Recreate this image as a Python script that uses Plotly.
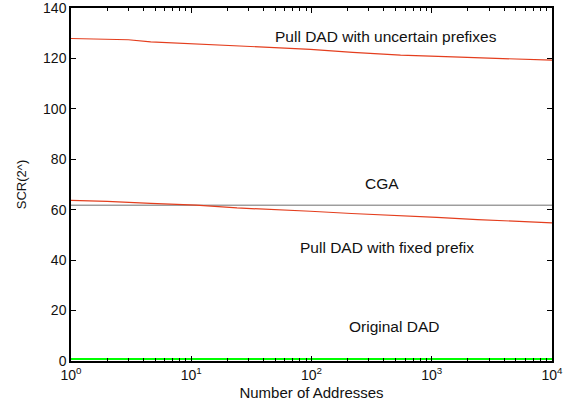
import plotly.graph_objects as go
import math

# Data
n_uncertain = [1, 2, 3, 4.6, 12, 38, 98, 220, 550, 1500, 3800, 10000]
scr_uncertain = [127.9, 127.7, 127.4, 126.6, 125.7, 124.5, 123.6, 122.4, 121.3, 120.6, 120.0, 119.3]

n_fixed = [1, 2, 4.6, 11, 24, 55, 98, 215, 480, 1100, 2400, 5400, 10000]
scr_fixed = [63.7, 63.3, 62.5, 61.8, 60.7, 60.1, 59.4, 58.5, 57.8, 57.0, 56.1, 55.3, 54.8]

n_cga = [1, 10000]
scr_cga = [61.8, 61.8]

n_orig = [1, 10000]
scr_orig = [0.8, 0.8]

x_tickvals = [1, 10, 100, 1000, 10000]
x_ticktext = ["10<sup>0</sup>", "10<sup>1</sup>", "10<sup>2</sup>", "10<sup>3</sup>", "10<sup>4</sup>"]
x_minor = [m * 10 ** d for d in range(4) for m in range(2, 10)]
y_tickvals = [0, 20, 40, 60, 80, 100, 120, 140]

labels = [
    ("Pull DAD with uncertain prefixes", 417, 128.8),
    ("CGA", 389, 70.5),
    ("Pull DAD with fixed prefix", 427, 45.0),
    ("Original DAD", 482, 13.8),
]

red = "rgb(228,62,30)"
fig = go.Figure()
fig.add_trace(go.Scatter(x=n_cga, y=scr_cga, mode="lines",
                         line=dict(color="#6e6e6e", width=1), showlegend=False))
fig.add_trace(go.Scatter(x=n_uncertain, y=scr_uncertain, mode="lines",
                         line=dict(color=red, width=1.2), showlegend=False))
fig.add_trace(go.Scatter(x=n_fixed, y=scr_fixed, mode="lines",
                         line=dict(color=red, width=1.2), showlegend=False))
fig.add_trace(go.Scatter(x=n_orig, y=scr_orig, mode="lines",
                         line=dict(color="#00ff00", width=2), showlegend=False))

for text, x, y in labels:
    fig.add_annotation(x=math.log10(x), y=y, xref="x", yref="y", text=text, showarrow=False,
                       font=dict(family="Liberation Sans, Arial", size=15.5, color="#111"))

fig.update_layout(
    width=570, height=406,
    margin=dict(l=71, r=18, t=8, b=45, autoexpand=False),
    paper_bgcolor="white", plot_bgcolor="white",
    font=dict(family="Liberation Sans, Arial", color="#111"),
)
fig.update_xaxes(
    type="log", range=[0, 4],
    tickvals=x_tickvals, ticktext=x_ticktext,
    ticks="inside", ticklen=5, tickcolor="black",
    showline=True, linecolor="black", linewidth=1.5, mirror="ticks",
    showgrid=False, zeroline=False, automargin=False,
    tickfont=dict(size=14), ticklabeloverflow="allow",
    minor=dict(tickvals=x_minor, ticks="inside", ticklen=3, tickcolor="black", showgrid=False),
    title=dict(text="Number of Addresses", font=dict(size=15), standoff=6),
)
fig.update_yaxes(
    range=[0, 140], tickvals=y_tickvals,
    ticks="inside", ticklen=5, tickcolor="black",
    showline=True, linecolor="black", linewidth=1.5, mirror="ticks",
    showgrid=False, zeroline=False, automargin=False,
    tickfont=dict(size=14), ticklabeloverflow="allow",
    title=dict(text="SCR(2^)", font=dict(size=13), standoff=14),
)
fig.write_html("out.html")
